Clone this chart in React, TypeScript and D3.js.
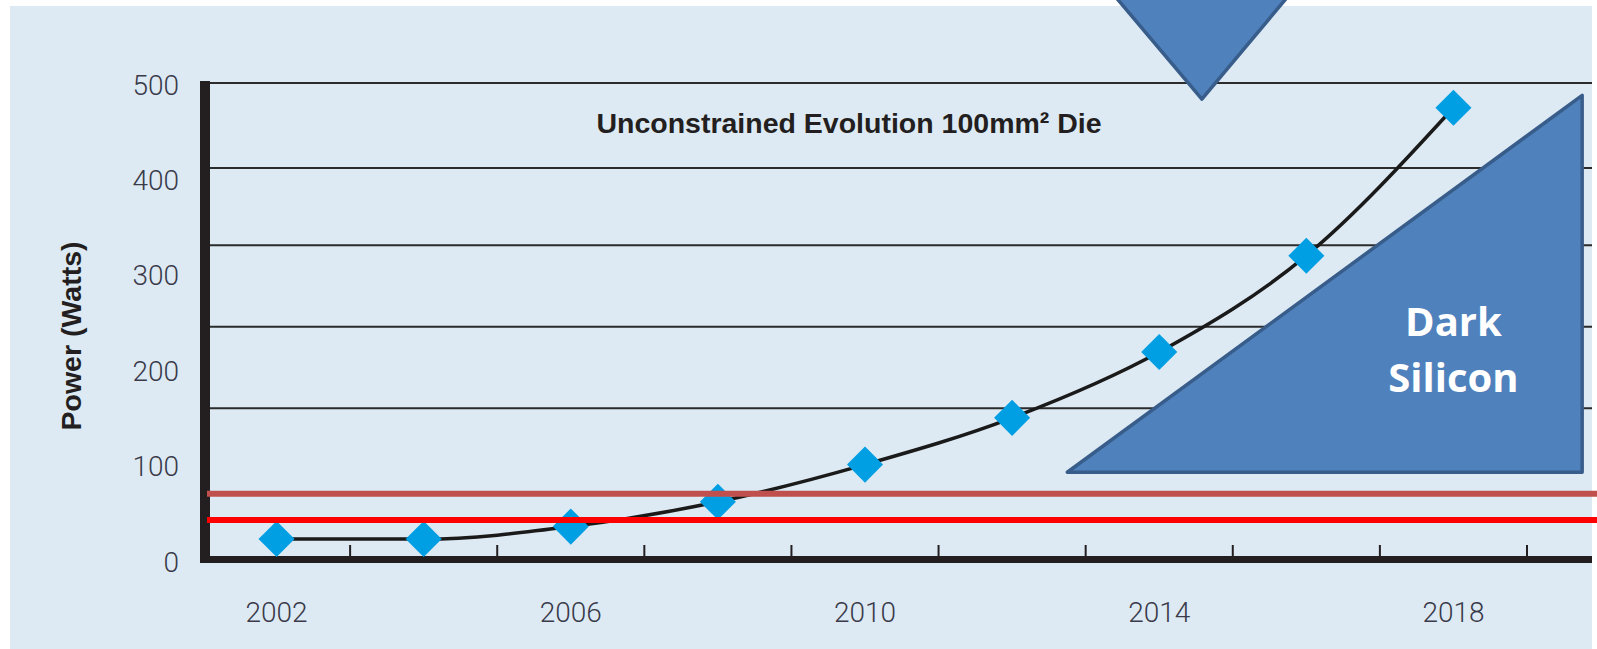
import * as d3 from 'd3';
import React from 'react';

// chart values
const years = [2002, 2004, 2006, 2008, 2010, 2012, 2014, 2016, 2018];
const powerWatts = [22, 22, 35, 61, 100, 149, 218, 319, 474];
const yTickValues = [0, 100, 200, 300, 400, 500];
const xLabelYears = [2002, 2006, 2010, 2014, 2018];
const xTickYears = [2003, 2005, 2007, 2009, 2011, 2013, 2015, 2017, 2019];
// the scanned gridlines do not sit on the labelled values
const gridValues = [500, 411, 330, 244.5, 159];
const limitValues = [69.5, 42];
const limitColors = ['#c0504d', '#ff0000'];

const title = 'Unconstrained Evolution 100mm\u00b2 Die';
const yTitle = 'Power (Watts)';
const darkLines = ['Dark', 'Silicon'];

const W = 1597;
const H = 649;
const panel = { left: 10, top: 6, right: 1592 };
const axisLeft = 200;

const App: React.FC = () => {
  const x = d3.scaleLinear().domain([2001, 2019]).range([203, 1527]);
  const y = d3.scaleLinear().domain([0, 500]).range([560, 83]);

  const points = years.map((yr, i) => ({ yr, v: powerWatts[i] }));

  const line = d3
    .line<{ yr: number; v: number }>()
    .x((d) => x(d.yr))
    .y((d) => y(d.v))
    .curve(d3.curveMonotoneX);

  const diamond = d3.symbol().type(d3.symbolSquare).size(650)();

  // annotation shapes, in chart units
  const downTri: [number, number][] = [
    [2013.3, 600],
    [2015.85, 600],
    [2014.58, 483],
  ];
  const darkTri: [number, number][] = [
    [2012.75, 92],
    [2019.75, 487],
    [2019.75, 92],
  ];
  const triPath = (pts: [number, number][]) =>
    'M' + pts.map(([a, b]) => `${x(a)},${y(b)}`).join('L') + 'Z';

  const labelFont = 'Roboto, "Liberation Sans", sans-serif';
  const boldFont = '"Liberation Sans", Arial, sans-serif';

  return (
    <svg
      width={W}
      height={H}
      style={{ position: 'absolute', left: 0, top: 0, display: 'block' }}
    >
      <rect width={W} height={H} fill='#ffffff' />
      <rect
        x={panel.left}
        y={panel.top}
        width={panel.right - panel.left}
        height={H - panel.top}
        fill='#ddeaf3'
      />

      {/* gridlines */}
      <g stroke='#2b2b2b' strokeWidth={2}>
        {gridValues.map((g) => (
          <line key={g} x1={axisLeft} x2={panel.right} y1={y(g)} y2={y(g)} />
        ))}
      </g>

      {/* y tick labels */}
      <g
        fontFamily={labelFont}
        fontWeight={300}
        fontSize={28}
        fill='#3a3a4a'
        textAnchor='end'
      >
        {yTickValues.map((v) => (
          <text key={v} x={179} y={y(v) + 2} dominantBaseline='central'>
            {v}
          </text>
        ))}
      </g>

      {/* x tick labels */}
      <g
        fontFamily={labelFont}
        fontWeight={300}
        fontSize={28}
        fill='#3a3a4a'
        textAnchor='middle'
      >
        {xLabelYears.map((yr) => (
          <text key={yr} x={x(yr)} y={622}>
            {yr}
          </text>
        ))}
      </g>

      {/* axes */}
      <g fill='#231f20'>
        <rect x={axisLeft} y={81} width={10} height={y(0) + 3 - 81} />
        <rect
          x={axisLeft}
          y={y(0) - 4}
          width={panel.right - axisLeft}
          height={7}
        />
      </g>
      <g stroke='#231f20' strokeWidth={2}>
        {xTickYears.map((yr) => (
          <line key={yr} x1={x(yr)} x2={x(yr)} y1={y(0) - 4} y2={y(0) - 15} />
        ))}
      </g>

      {/* trend curve and points */}
      <path
        d={line(points) ?? ''}
        fill='none'
        stroke='#1a1a1a'
        strokeWidth={3.5}
      />
      {points.map((d) => (
        <path
          key={d.yr}
          d={diamond ?? ''}
          transform={`translate(${x(d.yr)},${y(d.v)}) rotate(45)`}
          fill='#009fe3'
        />
      ))}

      {/* limit lines */}
      {limitValues.map((v, i) => (
        <line
          key={v}
          x1={207}
          x2={W}
          y1={y(v)}
          y2={y(v)}
          stroke={limitColors[i]}
          strokeWidth={6}
        />
      ))}

      {/* titles */}
      <text
        x={849}
        y={133}
        textAnchor='middle'
        fontFamily={boldFont}
        fontWeight='bold'
        fontSize={28.5}
        fill='#231f20'
      >
        {title}
      </text>
      <text
        transform='translate(81,336) rotate(-90)'
        textAnchor='middle'
        fontFamily={boldFont}
        fontWeight='bold'
        fontSize={28.5}
        fill='#231f20'
      >
        {yTitle}
      </text>

      {/* dark silicon annotation */}
      <g
        fill='#4f81bd'
        stroke='#385d8a'
        strokeWidth={3.5}
        strokeLinejoin='round'
      >
        <path d={triPath(downTri)} />
        <path d={triPath(darkTri)} />
      </g>
      <g
        fontFamily='"Open Sans", "Noto Sans", sans-serif'
        fontWeight='bold'
        fontSize={40}
        fill='#ffffff'
        textAnchor='middle'
      >
        {darkLines.map((t, i) => (
          <text key={t} x={x(2018)} y={336 + i * 56}>
            {t}
          </text>
        ))}
      </g>
    </svg>
  );
};

export default App;
